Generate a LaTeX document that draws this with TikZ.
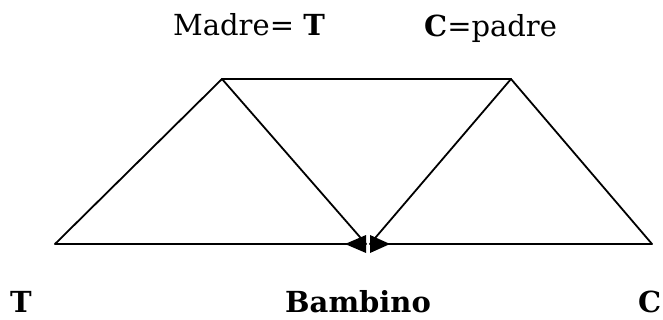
\documentclass[tikz,border=0pt]{standalone}
\usepackage{fontspec}
\setmainfont{DejaVu Serif}
\begin{document}
\begin{tikzpicture}[x=1pt,y=-1pt,
  edge/.style={line width=1.8pt, line cap=round},
  head/.style={fill=black},
  lbl/.style={inner sep=0pt, anchor=base west, font=\fontsize{29}{32}\selectfont}]
\useasboundingbox (0,0) rectangle (663,320);
\coordinate (BL) at (55,244);
\coordinate (TL) at (222,79);
\coordinate (TR) at (511,79);
\coordinate (BR) at (652,244);
\coordinate (ML) at (366,244);
\coordinate (MR) at (370,244);
\draw[edge] (BL) -- (ML);
\draw[edge] (MR) -- (BR);
\draw[edge] (BL) -- (TL) -- (TR) -- (BR);
\draw[edge] (TL) -- (ML);
\draw[edge] (TR) -- (MR);
\fill[head] (ML) ++(0,-9) -- ++(0,18) -- (345,244) -- cycle;
\fill[head] (MR) ++(0,-9) -- ++(0,18) -- (390,244) -- cycle;
\node[lbl] (madre) at (173,36) {Madre= \textbf{T}};
\node[lbl] (padre) at (424,37) {\textbf{C}=padre};
\node[lbl] (t) at (10,312) {\textbf{T}};
\node[lbl] (bambino) at (285,312) {\textbf{Bambino}};
\node[lbl] (c) at (638,312) {\textbf{C}};
\end{tikzpicture}
\end{document}
